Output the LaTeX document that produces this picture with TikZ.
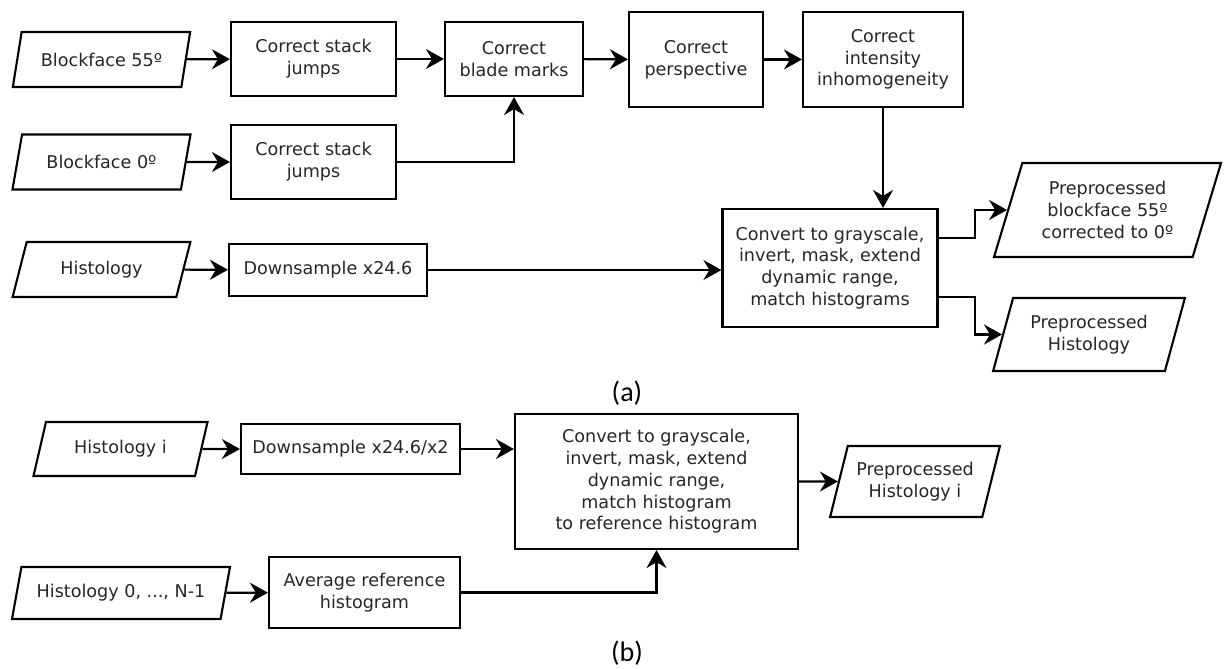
\documentclass[tikz,border=0pt]{standalone}
\usepackage{fontspec}
\setmainfont{DejaVu Sans}
\newfontfamily\capfont{Carlito}
\usetikzlibrary{shapes.geometric,arrows.meta}

\begin{document}
\begin{tikzpicture}[x=0.025cm, y=-0.025cm,
    every node/.style={text=black!85, font=\fontsize{12.5}{15.5}\selectfont},
    box/.style={draw=black, rectangle, line width=1.5pt, align=center, inner sep=2pt},
    data/.style={draw=black, trapezium, trapezium left angle=70, trapezium right angle=110,
        trapezium stretches=true, line width=1.5pt, align=center, inner sep=2pt},
    flow/.style={line width=1.5pt, -{Stealth[length=0.45cm, width=0.5cm, inset=0.15cm]}},
    caption/.style={text=black, font=\capfont\fontsize{20}{24}\selectfont}]
        \useasboundingbox (0,0) rectangle (1227,669);

        % (a) inputs
        \node[data, minimum width=4.475cm, minimum height=1.375cm] (bf55) at (101.5, 59.5) {Blockface 55º};
        \node[data, minimum width=4.475cm, minimum height=1.375cm] (bf0) at (101.5, 162) {Blockface 0º};
        \node[data, minimum width=4.475cm, minimum height=1.375cm] (hist) at (101.5, 269.5) {Histology};

        % (a) processing steps
        \node[box, minimum width=4.125cm, minimum height=1.85cm] (sj55) at (313.5, 59) {Correct stack\\jumps};
        \node[box, minimum width=4.125cm, minimum height=1.85cm] (sj0) at (313.5, 162) {Correct stack\\jumps};
        \node[box, minimum width=3.45cm, minimum height=1.85cm] (blade) at (514, 59) {Correct\\blade marks};
        \node[box, minimum width=3.35cm, minimum height=2.375cm] (persp) at (696, 59.5) {Correct\\perspective};
        \node[box, minimum width=4cm, minimum height=2.375cm] (inten) at (883, 59.5) {Correct\\intensity\\inhomogeneity};
        \node[box, minimum width=4.95cm, minimum height=1.3cm] (ds) at (328, 270) {Downsample x24.6};
        \node[box, minimum width=5.375cm, minimum height=2.95cm] (conv) at (830, 268)
            {Convert to grayscale,\\invert, mask, extend\\dynamic range,\\match histograms};

        % (a) outputs
        \node[data, minimum width=5.675cm, minimum height=2.35cm] (outbf) at (1107.5, 210)
            {Preprocessed\\blockface 55º\\corrected to 0º};
        \node[data, minimum width=4.8cm, minimum height=1.825cm] (outhist) at (1089, 334.5)
            {Preprocessed\\Histology};

        % (a) connectors
        \draw[flow] (bf55) -- (sj55);
        \draw[flow] (bf0) -- (sj0);
        \draw[flow] (hist) -- (ds);
        \draw[flow] (sj55) -- (blade);
        \draw[flow] (sj0.east) -| (blade.south);
        \draw[flow] (blade) -- (persp);
        \draw[flow] (persp) -- (inten);
        \draw[flow] (inten.south) -- (inten.south |- conv.north);
        \draw[flow] (ds.east) -- (ds.east -| conv.west);
        \draw[flow] ([yshift=0.75cm]conv.east) -- ++(0.91cm, 0) |- (outbf.west);
        \draw[flow] ([yshift=-0.725cm]conv.east) -- ++(0.91cm, 0) |- (outhist.west);

        \node[caption] (capa) at (627, 393) {(a)};

        % (b) inputs
        \node[data, minimum width=4.375cm, minimum height=1.35cm] (histi) at (120.5, 449) {Histology i};
        \node[data, minimum width=5.45cm, minimum height=1.3cm] (hist0) at (121, 593) {Histology 0, ..., N-1};

        % (b) processing steps
        \node[box, minimum width=5.475cm, minimum height=1.25cm] (dsb) at (350.5, 449) {Downsample x24.6/x2};
        \node[box, minimum width=4.775cm, minimum height=1.775cm] (avg) at (364.5, 592.5) {Average reference\\histogram};
        \node[box, minimum width=7.075cm, minimum height=3.375cm] (convb) at (656.5, 481.5)
            {Convert to grayscale,\\invert, mask, extend\\dynamic range,\\match histogram\\to reference histogram};

        % (b) output
        \node[data, minimum width=4.25cm, minimum height=1.775cm] (outhisti) at (915, 481.5)
            {Preprocessed\\Histology i};

        % (b) connectors
        \draw[flow] (histi) -- (dsb);
        \draw[flow] (hist0) -- (avg);
        \draw[flow] (dsb.east) -- (dsb.east -| convb.west);
        \draw[flow] (avg.east) -| (convb.south);
        \draw[flow] (convb) -- (outhisti);

        \node[caption] (capb) at (627, 653) {(b)};

    \end{tikzpicture}
\end{document}
